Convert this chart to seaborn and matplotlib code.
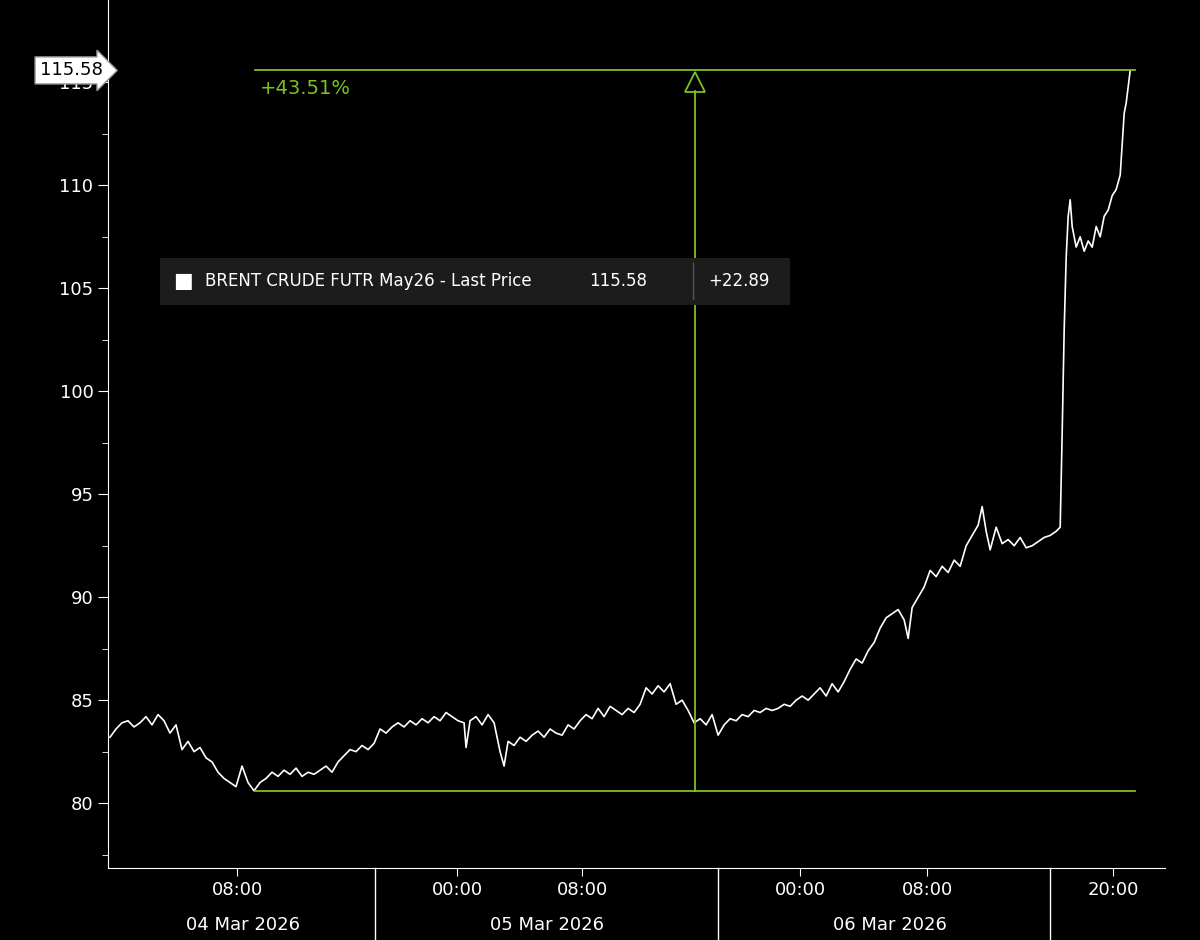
import matplotlib
matplotlib.use("Agg")
import matplotlib.pyplot as plt
from matplotlib.patches import Rectangle
import seaborn as sns
import pandas as pd

# session-time axis position (chart units) and price
t = [110,116,122,128,134,140,146,152,158,164,170,176,182,188,194,200,206,212,218,224,230,236,242,248,254,260,266,272,278,284,290,296,302,308,314,320,326,332,338,344,350,356,362,368,374,380,386,392,398,404,410,416,422,428,434,440,446,452,458,464,466,470,476,482,488,494,500,504,508,514,520,526,532,538,544,550,556,562,568,574,580,586,592,598,604,610,616,622,628,634,640,646,652,658,664,670,676,682,688,694,700,706,712,718,724,730,736,742,748,754,760,766,772,778,784,790,796,802,808,814,820,826,832,838,844,850,856,862,868,874,880,886,892,898,904,908,912,918,924,930,936,942,948,954,960,966,972,978,982,986,990,996,1002,1008,1014,1020,1026,1032,1038,1044,1050,1056,1060,1062,1064,1066,1068,1070,1072,1076,1080,1084,1088,1092,1096,1100,1104,1108,1112,1116,1120,1122,1124,1126,1128,1130]
price = [83.2,83.6,83.9,84.0,83.7,83.9,84.2,83.8,84.3,84.0,83.4,83.8,82.6,83.0,82.5,82.7,82.2,82.0,81.5,81.2,81.0,80.8,81.8,81.0,80.6,81.0,81.2,81.5,81.3,81.6,81.4,81.7,81.3,81.5,81.4,81.6,81.8,81.5,82.0,82.3,82.6,82.5,82.8,82.6,82.9,83.6,83.4,83.7,83.9,83.7,84.0,83.8,84.1,83.9,84.2,84.0,84.4,84.2,84.0,83.9,82.7,84.0,84.2,83.8,84.3,83.9,82.5,81.8,83.0,82.8,83.2,83.0,83.3,83.5,83.2,83.6,83.4,83.3,83.8,83.6,84.0,84.3,84.1,84.6,84.2,84.7,84.5,84.3,84.6,84.4,84.8,85.6,85.3,85.7,85.4,85.8,84.8,85.0,84.5,83.9,84.1,83.8,84.3,83.3,83.8,84.1,84.0,84.3,84.2,84.5,84.4,84.6,84.5,84.6,84.8,84.7,85.0,85.2,85.0,85.3,85.6,85.2,85.8,85.4,85.9,86.5,87.0,86.8,87.4,87.8,88.5,89.0,89.2,89.4,88.9,88.0,89.5,90.0,90.5,91.3,91.0,91.5,91.2,91.8,91.5,92.5,93.0,93.5,94.4,93.2,92.3,93.4,92.6,92.8,92.5,92.9,92.4,92.5,92.7,92.9,93.0,93.2,93.4,98.0,103.0,106.5,108.5,109.3,108.0,107.0,107.5,106.8,107.3,107.0,108.0,107.5,108.5,108.8,109.5,109.8,110.5,112.0,113.5,114.0,114.8,115.58]

time_ticks = [237, 457, 582, 800, 927, 1113]
time_labels = ["08:00", "00:00", "08:00", "00:00", "08:00", "20:00"]
date_pos = [243, 547, 890]
date_labels = ["04 Mar 2026", "05 Mar 2026", "06 Mar 2026"]
day_breaks = [375, 718, 1050]
yticks = [80, 85, 90, 95, 100, 105, 110, 115]

low_val, high_val = 80.6, 115.58
meas_start, meas_end, meas_x = 255, 1135, 695
pct_label = "+43.51%"
legend_text = "BRENT CRUDE FUTR May26 - Last Price"
last_txt, chg_txt = "115.58", "+22.89"

GREEN = "#7dc11e"
df = pd.DataFrame({"t": t, "price": price})

fig = plt.figure(figsize=(12, 9.4), dpi=100, facecolor="black")
ax = fig.add_axes([0.09, 0.0766, 0.881, 0.9234])
ax.set_facecolor("black")
sns.lineplot(data=df, x="t", y="price", ax=ax, color="white", lw=1.2)
ax.set_xlim(108, 1165)
ax.set_ylim(76.85, 119.0)
ax.set_xlabel(""); ax.set_ylabel("")

for s in ["top", "right"]:
    ax.spines[s].set_visible(False)
ax.spines["left"].set_color("white")
ax.spines["bottom"].set_color("white")
ax.set_yticks(yticks)
ax.set_yticks([77.5 + 5 * i for i in range(8)], minor=True)
ax.tick_params(axis="y", which="both", colors="white", labelsize=13, length=7, direction="out")
ax.tick_params(axis="y", which="minor", length=4)
ax.set_xticks(time_ticks)
ax.set_xticklabels([])
ax.tick_params(axis="x", colors="white", length=6)

tr = ax.get_xaxis_transform()
for x, l in zip(time_ticks, time_labels):
    ax.text(x, -0.015, l, transform=tr, color="white", fontsize=13, ha="center", va="top")
for x, l in zip(date_pos, date_labels):
    ax.text(x, -0.055, l, transform=tr, color="white", fontsize=13, ha="center", va="top")
for x in day_breaks:
    ax.plot([x, x], [0, -0.09], transform=tr, color="white", lw=1, clip_on=False)

# measurement annotation
ax.plot([meas_start, meas_end], [high_val, high_val], color=GREEN, lw=1.3)
ax.plot([meas_start, meas_end], [low_val, low_val], color=GREEN, lw=1.3)
ax.plot([meas_x, meas_x], [low_val, high_val - 1.0], color=GREEN, lw=1.3)
ax.plot([meas_x], [high_val - 0.55], marker="^", ms=15, mfc="none", mec=GREEN, mew=1.3)
ax.text(meas_start + 5, high_val - 0.4, pct_label, color=GREEN, fontsize=14, va="top", ha="left")

# legend box
ax.add_patch(Rectangle((0.049, 0.649), 0.596, 0.054, transform=ax.transAxes,
                       fc="#1c1c1c", ec="none", zorder=3))
ax.text(0.062, 0.676, "\u25A0", transform=ax.transAxes, color="white", fontsize=15, va="center", zorder=4)
ax.text(0.092, 0.676, legend_text, transform=ax.transAxes, color="white", fontsize=12, va="center", zorder=4)
ax.text(0.455, 0.676, last_txt, transform=ax.transAxes, color="white", fontsize=12, va="center", zorder=4)
ax.text(0.568, 0.676, chg_txt, transform=ax.transAxes, color="white", fontsize=12, va="center", zorder=4)
ax.plot([0.553, 0.553], [0.655, 0.697], transform=ax.transAxes, color="#555555", lw=1, zorder=4)

# last price tag
ax.annotate(last_txt, xy=(0, high_val), xycoords=("axes fraction", "data"),
            xytext=(-4, 0), textcoords="offset points", ha="right", va="center",
            fontsize=13, color="black", annotation_clip=False, zorder=10,
            bbox=dict(boxstyle="rarrow,pad=0.25", fc="white", ec="#999999"))

fig.savefig("out.png", dpi=100, facecolor="black")
